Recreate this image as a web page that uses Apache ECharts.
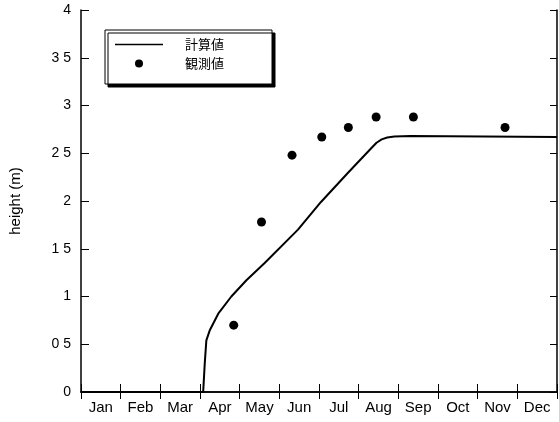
<!DOCTYPE html>
<html>
<head>
<meta charset="utf-8">
<script src="https://cdn.jsdelivr.net/npm/echarts@6/dist/echarts.min.js"></script>
<style>
  html, body { margin: 0; padding: 0; background: #fff; }
  #main { width: 559px; height: 422px; }
</style>
</head>
<body>
<div id="main"></div>
<script>
  // month categories (bottom axis)
  var months = ['Jan', 'Feb', 'Mar', 'Apr', 'May', 'Jun', 'Jul', 'Aug', 'Sep', 'Oct', 'Nov', 'Dec'];
  // 計算値: [month position (0 = start of Jan), height m]
  var calcX = [0, 3.08, 3.12, 3.16, 3.25, 3.46, 3.79, 4.17, 4.63, 5.47, 6.05, 6.72, 7.31, 7.45, 7.58, 7.72, 7.9, 8.31, 12];
  var calcY = [0, 0, 0.30, 0.54, 0.65, 0.82, 1.00, 1.17, 1.35, 1.70, 1.99, 2.29, 2.55, 2.61, 2.645, 2.665, 2.675, 2.68, 2.67];
  // 観測値
  var obsX = [3.85, 4.55, 5.32, 6.07, 6.74, 7.44, 8.38, 10.69];
  var obsY = [0.70, 1.78, 2.48, 2.67, 2.77, 2.88, 2.88, 2.77];
  // y tick labels as printed (decimal point lost in the original)
  var yLabels = ['0', '0 5', '1', '1 5', '2', '2 5', '3', '3 5', '4'];

  var font = 'Liberation Sans, Arial, Noto Sans CJK JP, sans-serif';
  var axisLine = { show: true, lineStyle: { color: '#000', width: 1.5 } };

  var calc = calcX.map(function (x, i) { return [x, calcY[i]]; });
  var obs = obsX.map(function (x, i) { return [x, obsY[i]]; });

  var chart = echarts.init(document.getElementById('main'));
  chart.setOption({
    animation: false,
    backgroundColor: '#fff',
    textStyle: { fontFamily: font },
    grid: { left: 79, right: 2, top: 10, bottom: 30 },
    legend: {
      left: 105,
      top: 30,
      orient: 'vertical',
      padding: [8, 48, 14, 10],
      itemGap: 6,
      itemWidth: 48,
      itemHeight: 8,
      backgroundColor: '#fff',
      borderColor: '#000',
      borderWidth: 1,
      shadowColor: '#000',
      shadowBlur: 0,
      shadowOffsetX: 3,
      shadowOffsetY: 3,
      textStyle: { fontSize: 13, color: '#000', fontFamily: 'Noto Sans CJK JP', padding: [0, 0, 0, 17] },
      data: [
        { name: '計算値', icon: 'path://M0,0 L48,0 L48,1.6 L0,1.6 Z' },
        { name: '観測値', icon: 'circle', itemStyle: { color: '#000', opacity: 1 } }
      ]
    },
    xAxis: [
      {
        type: 'category',
        data: months,
        position: 'bottom',
        boundaryGap: true,
        axisLine: axisLine,
        axisTick: { show: true, inside: true, length: 8, interval: 0, lineStyle: { color: '#000' } },
        axisLabel: { color: '#000', fontSize: 15, margin: 8, interval: 0, fontFamily: font },
        splitLine: { show: false }
      },
      {
        type: 'category',
        data: months,
        position: 'top',
        boundaryGap: true,
        axisLine: axisLine,
        axisTick: { show: true, inside: true, length: 7, interval: 0, lineStyle: { color: '#000' } },
        axisLabel: { show: false },
        splitLine: { show: false }
      },
      {
        type: 'value',
        min: 0,
        max: 12,
        show: false
      }
    ],
    yAxis: [
      {
        type: 'value',
        min: 0,
        max: 4,
        interval: 0.5,
        position: 'left',
        name: 'height (m)',
        nameLocation: 'middle',
        nameGap: 58,
        nameTextStyle: { color: '#000', fontSize: 15, fontFamily: font },
        axisLine: axisLine,
        axisTick: { show: true, inside: true, length: 8, lineStyle: { color: '#000' } },
        axisLabel: {
          color: '#000', fontSize: 14, margin: 10, fontFamily: font,
          formatter: function (v) { return yLabels[Math.round(v * 2)]; }
        },
        splitLine: { show: false }
      },
      {
        type: 'value',
        min: 0,
        max: 4,
        interval: 0.5,
        position: 'right',
        axisLine: axisLine,
        axisTick: { show: true, inside: true, length: 7, lineStyle: { color: '#000' } },
        axisLabel: { show: false },
        splitLine: { show: false }
      }
    ],
    series: [
      {
        name: '計算値',
        type: 'line',
        xAxisIndex: 2,
        yAxisIndex: 0,
        data: calc,
        showSymbol: false,
        symbol: 'none',
        itemStyle: { color: '#000' },
        lineStyle: { color: '#000', width: 2 }
      },
      {
        name: '観測値',
        type: 'scatter',
        xAxisIndex: 2,
        yAxisIndex: 0,
        data: obs,
        symbol: 'circle',
        symbolSize: 9,
        itemStyle: { color: '#000', opacity: 1 }
      }
    ]
  });
</script>
</body>
</html>
